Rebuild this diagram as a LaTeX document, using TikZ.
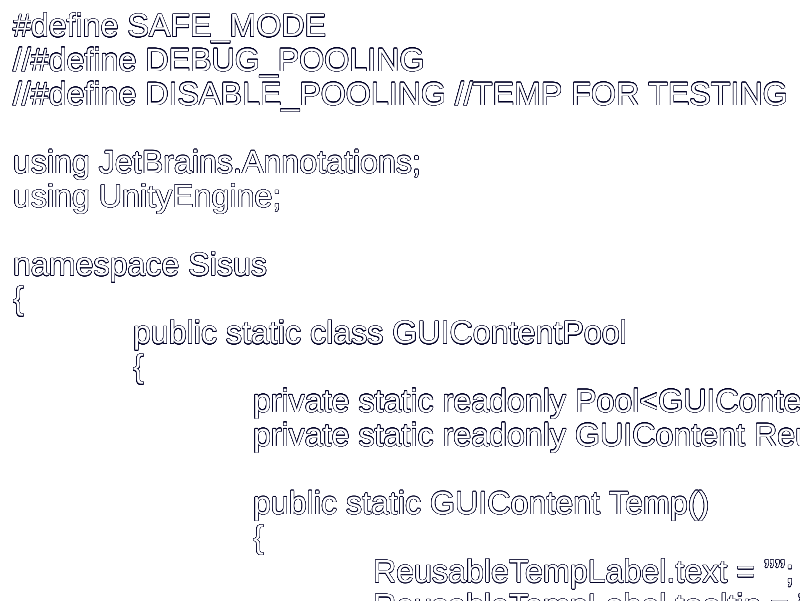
\documentclass[tikz,border=0pt]{standalone}
\usepackage{fontspec}
\setmainfont{Liberation Sans}[Ligatures=NoCommon]
\usepackage{contour}
\contourlength{0.45pt}
\contournumber{24}
\newcommand{\outl}[1]{{\color{white}\contour{black!85!blue}{#1}}}
\tikzset{
  codeline/.style={anchor=base west, inner sep=0pt, outer sep=0pt, font=\fontsize{32.2}{34}\selectfont}
}
\begin{document}
\begin{tikzpicture}[x=1pt,y=1pt]
\useasboundingbox (0,0) rectangle (800,600);
\fill[white] (0,0) rectangle (800,600);
\clip (0,0) rectangle (800,600);
\def\lx#1{13+120*#1}
\def\ly#1{563-34.1*(#1-1)}
\node[codeline] (l1)  at ({\lx0},{\ly1})  {\outl{\#define SAFE\_MODE}};
\node[codeline] (l2)  at ({\lx0},{\ly2})  {\outl{//\#define DEBUG\_POOLING}};
\node[codeline] (l3)  at ({\lx0},{\ly3})  {\outl{//\#define DISABLE\_POOLING //TEMP FOR TESTING}};
\node[codeline] (l5)  at ({\lx0},{\ly5})  {\outl{using JetBrains.Annotations;}};
\node[codeline] (l6)  at ({\lx0},{\ly6})  {\outl{using UnityEngine;}};
\node[codeline] (l8)  at ({\lx0},{\ly8})  {\outl{namespace Sisus}};
\node[codeline] (l9)  at ({\lx0},{\ly9})  {\outl{\{}};
\node[codeline] (l10) at ({\lx1},{\ly{10}}) {\outl{public static class GUIContentPool}};
\node[codeline] (l11) at ({\lx1},{\ly{11}}) {\outl{\{}};
\node[codeline] (l12) at ({\lx2},{\ly{12}}) {\outl{private static readonly Pool<GUIContent> pool}};
\node[codeline] (l13) at ({\lx2},{\ly{13}}) {\outl{private static readonly GUIContent ReusableTempLabel}};
\node[codeline] (l15) at ({\lx2},{\ly{15}}) {\outl{public static GUIContent Temp()}};
\node[codeline] (l16) at ({\lx2},{\ly{16}}) {\outl{\{}};
\node[codeline] (l17) at ({\lx3},{\ly{17}}) {\outl{ReusableTempLabel.text = "";}};
\node[codeline] (l18) at ({\lx3},{\ly{18}}) {\outl{ReusableTempLabel.tooltip = "";}};
\end{tikzpicture}
\end{document}
